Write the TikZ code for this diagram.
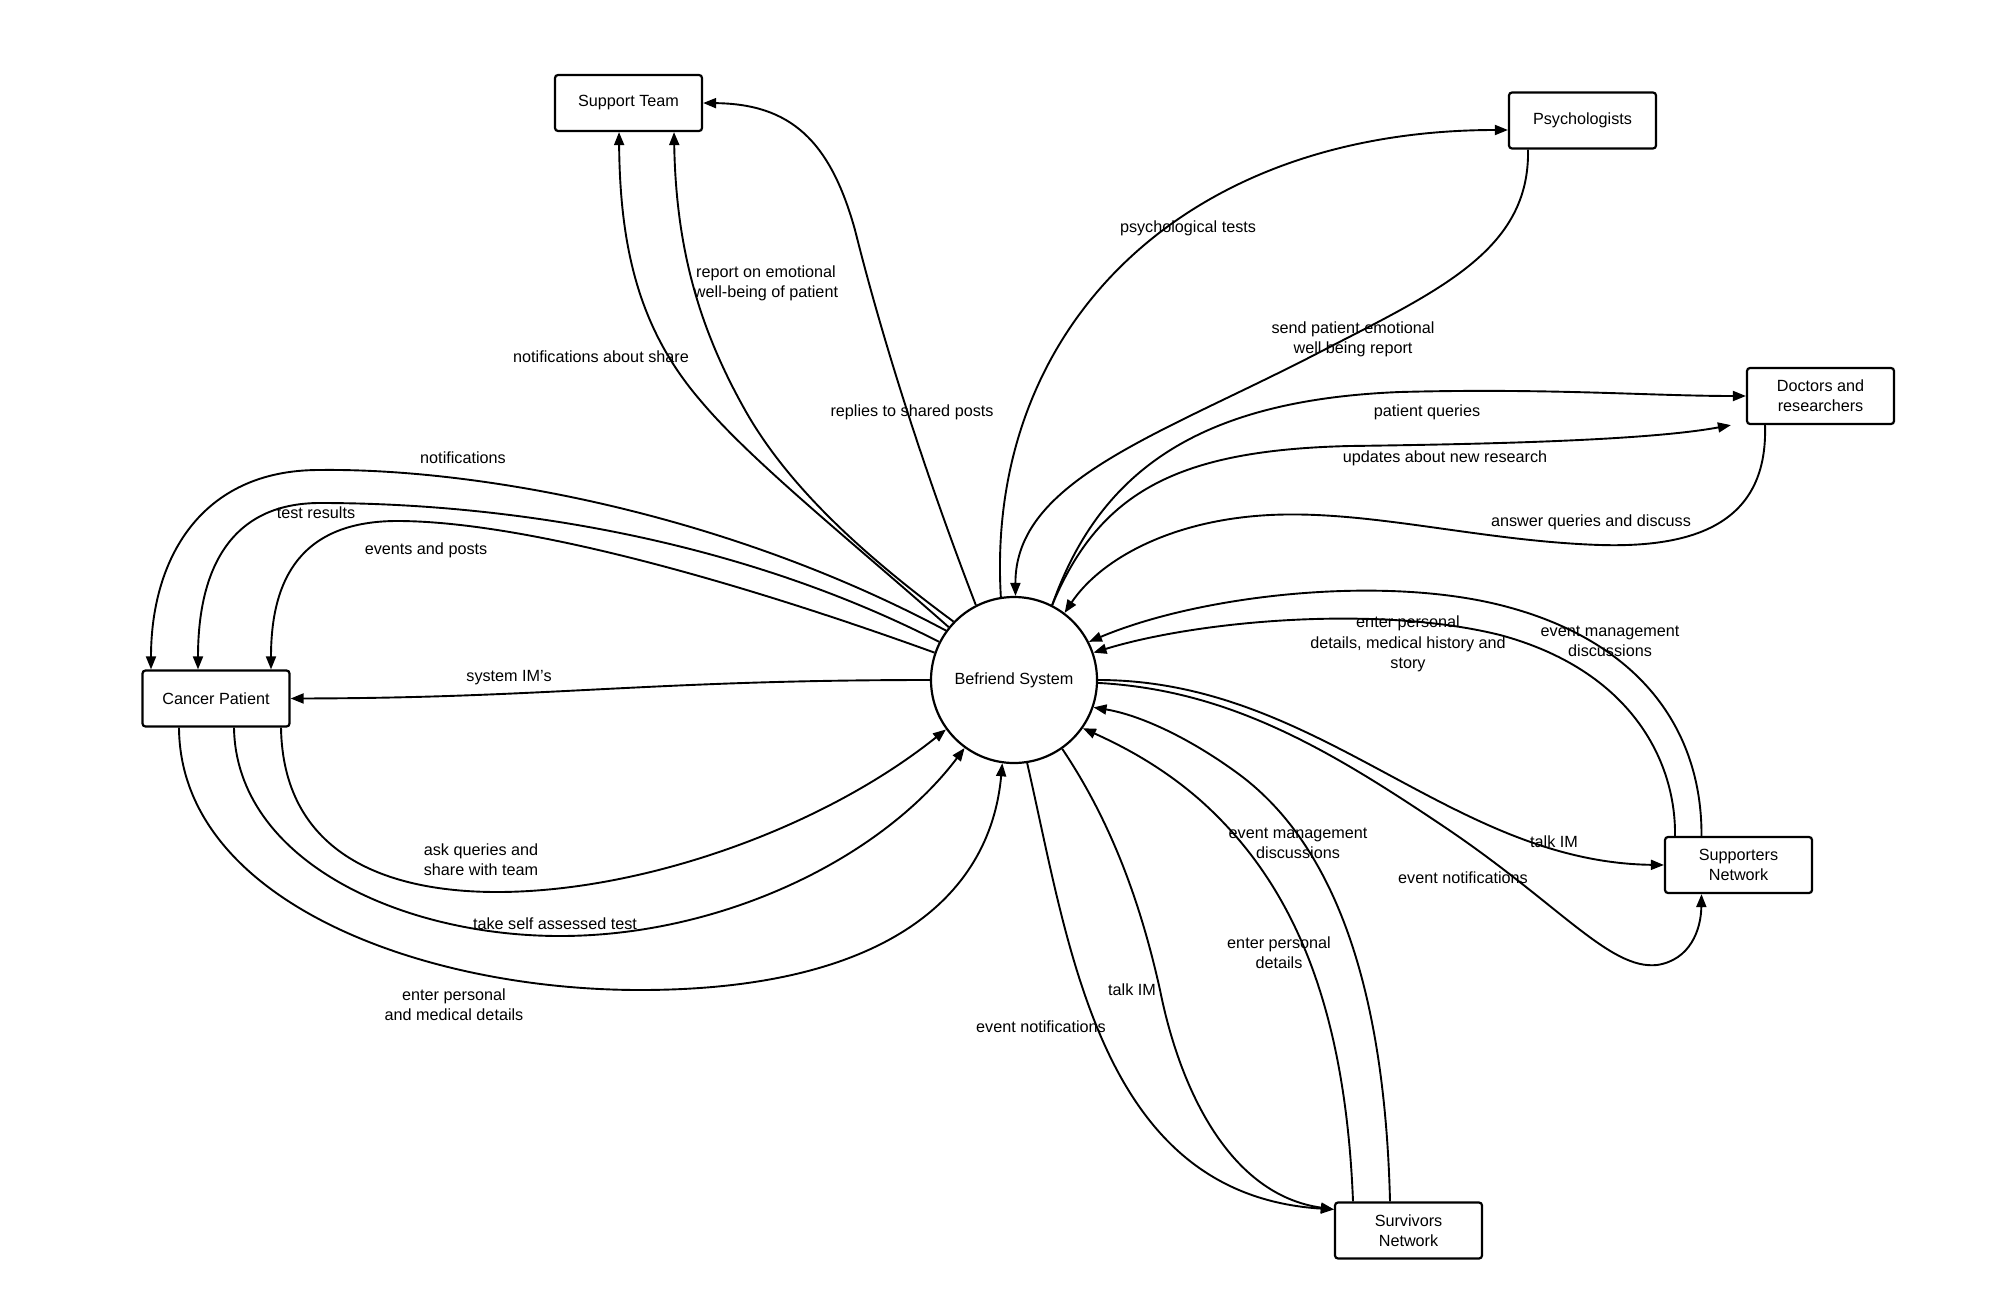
\documentclass[tikz,border=0pt]{standalone}
\usepackage{fontspec}
\setmainfont{Liberation Sans}
\usetikzlibrary{arrows.meta,calc}
\newcommand\lbfont{\fontsize{8.1}{10.15}\selectfont}
\tikzset{
  box/.style={draw, line width=1.1pt, rounded corners=1.5pt, minimum width=73.5pt, minimum height=28pt, align=center, inner sep=1pt, font=\lbfont},
  sysc/.style={draw, circle, line width=1.1pt, minimum size=83pt, inner sep=0pt, font=\lbfont},
  flow/.style={line width=0.95pt, -{Triangle[length=6.5pt,width=5pt]}},
  lbl/.style={align=center, inner sep=1pt, font=\lbfont}
}
\begin{document}
\begin{tikzpicture}[x=0.5pt,y=-0.5pt]
\path[fill=white] (0,0) rectangle (2000,1305);
% nodes
\node[box] (st) at (628.5,103) {Support Team};
\node[box] (ps) at (1582.5,120.5) {Psychologists};
\node[box] (dr) at (1820.5,396) {Doctors and\\researchers};
\node[box] (cp) at (216,698.5) {Cancer Patient};
\node[box] (sn) at (1738.5,865) {Supporters\\Network};
\node[box] (sv) at (1408.5,1230.5) {Survivors\\Network};
\node[sysc] (sys) at (1014,680) {Befriend System};

% Support Team
\draw[flow] (sys.117.8) .. controls (920,460) and (880,330) .. (855,230) .. controls (830,140) and (790,104) .. (st.east);
\draw[flow] (sys.136) .. controls (870,560) and (790,490) .. (745,410) .. controls (700,330) and (676,250) .. ($(st.south)+(45.5,0)$);
\draw[flow] (sys.141) .. controls (850,540) and (750,460) .. (700,400) .. controls (640,330) and (620,250) .. ($(st.south)+(-9.5,0)$);

% Psychologists
\draw[flow] (sys.99.7) .. controls (985,330) and (1180,130) .. ($(ps.west)+(0,9.5)$);
\draw[flow] ($(ps.south)+(-54.5,0)$) .. controls (1530,250) and (1440,290) .. (1320,352) .. controls (1160,435) and (1015,480) .. (sys.89);

% Doctors
\draw[flow] (sys.63) .. controls (1100,470) and (1200,400) .. (1400,392) .. controls (1550,388) and (1650,396) .. (dr.west);
\coordinate (drup) at ($(dr.south west)+(-15,0)$);
\draw[flow] (sys.63) .. controls (1100,490) and (1180,450) .. (1350,446) .. controls (1500,444) and (1650,440) .. (drup);
\draw[flow] ($(dr.south)+(-55.5,0)$) .. controls (1768,520) and (1700,548) .. (1600,545) .. controls (1480,541) and (1370,510) .. (1270,515) .. controls (1170,520) and (1100,560) .. (sys.53);

% Cancer Patient
\draw[flow] (sys.144.5) .. controls (720,510) and (470,468) .. (319,470) .. controls (200,470) and (151,560) .. ($(cp.north)+(-65,0)$);
\draw[flow] (sys.153) .. controls (720,530) and (480,503) .. (320,503) .. controls (230,503) and (198,570) .. ($(cp.north)+(-18,0)$);
\draw[flow] (sys.161) .. controls (720,575) and (520,522) .. (400,521) .. controls (300,520) and (271,580) .. ($(cp.north)+(55,0)$);
\draw[flow] (sys.180) .. controls (650,680) and (550,698) .. (cp.east);
\draw[flow] ($(cp.south)+(65,0)$) .. controls (283,850) and (380,892) .. (497,892) .. controls (640,892) and (820,830) .. (sys.216);
\draw[flow] ($(cp.south)+(18,0)$) .. controls (236,860) and (400,936) .. (560,936) .. controls (720,936) and (880,860) .. (sys.234);
\draw[flow] ($(cp.south)+(-37,0)$) .. controls (180,900) and (420,990) .. (640,990) .. controls (880,990) and (990,900) .. (sys.262.5);

% Survivors
\coordinate (svin) at ($(sv.north west)+(0,8)$);
\draw[flow] (sys.279.6) .. controls (1070,950) and (1100,1195) .. (svin);
\draw[flow] (sys.305.8) .. controls (1110,820) and (1140,900) .. (1160,990) .. controls (1180,1090) and (1230,1195) .. (svin);
\draw[flow] ($(sv.north)+(-18.5,0)$) .. controls (1385,1000) and (1340,850) .. (1240,775) .. controls (1190,738) and (1140,715) .. (sys.341);
\draw[flow] ($(sv.north)+(-55.5,0)$) .. controls (1345,1000) and (1290,880) .. (1200,800) .. controls (1160,765) and (1120,745) .. (sys.325);

% Supporters
\draw[flow] (sys.0) .. controls (1320,680) and (1450,862) .. (sn.west);
\draw[flow] (sys.-2) .. controls (1230,690) and (1330,750) .. (1446,828) .. controls (1560,905) and (1610,970) .. (1657,965) .. controls (1690,960) and (1701,930) .. ($(sn.south)+(-37,0)$);
\draw[flow] ($(sn.north)+(-63.5,0)$) .. controls (1676,760) and (1630,670) .. (1500,635) .. controls (1380,605) and (1200,620) .. (sys.19.7);
\draw[flow] ($(sn.north)+(-37,0)$) .. controls (1702,730) and (1640,640) .. (1500,605) .. controls (1380,575) and (1200,595) .. (sys.27.2);

% labels
\node[lbl] (l1) at (766,283) {report on emotional\\well-being of patient};
\node[lbl] (l2) at (601,357) {notifications about share};
\node[lbl] (l3) at (912,412) {replies to shared posts};
\node[lbl] (l4) at (463,458) {notifications};
\node[lbl] (l5) at (316,513) {test results};
\node[lbl] (l6) at (426,550) {events and posts};
\node[lbl] (l7) at (509,678) {system IM's};
\node[lbl] (l8) at (481,860) {ask queries and\\share with team};
\node[lbl] (l9) at (555,924) {take self assessed test};
\node[lbl] (l10) at (454,1005) {enter personal\\and medical details};
\node[lbl] (l11) at (1188,228) {psychological tests};
\node[lbl] (l12) at (1353,339) {send patient emotional\\well being report};
\node[lbl] (l13) at (1427,412) {patient queries};
\node[lbl] (l14) at (1445,458) {updates about new research};
\node[lbl] (l15) at (1591,522) {answer queries and discuss};
\node[lbl] (l16) at (1408,644) {enter personal\\details, medical history and\\story};
\node[lbl] (l17) at (1610,641) {event management\\discussions};
\node[lbl] (l18) at (1554,842) {talk IM};
\node[lbl] (l19) at (1463,878) {event notifications};
\node[lbl] (l20) at (1298,843) {event management\\discussions};
\node[lbl] (l21) at (1279,953) {enter personal\\details};
\node[lbl] (l22) at (1132,990) {talk IM};
\node[lbl] (l23) at (1041,1027) {event notifications};
\end{tikzpicture}
\end{document}
